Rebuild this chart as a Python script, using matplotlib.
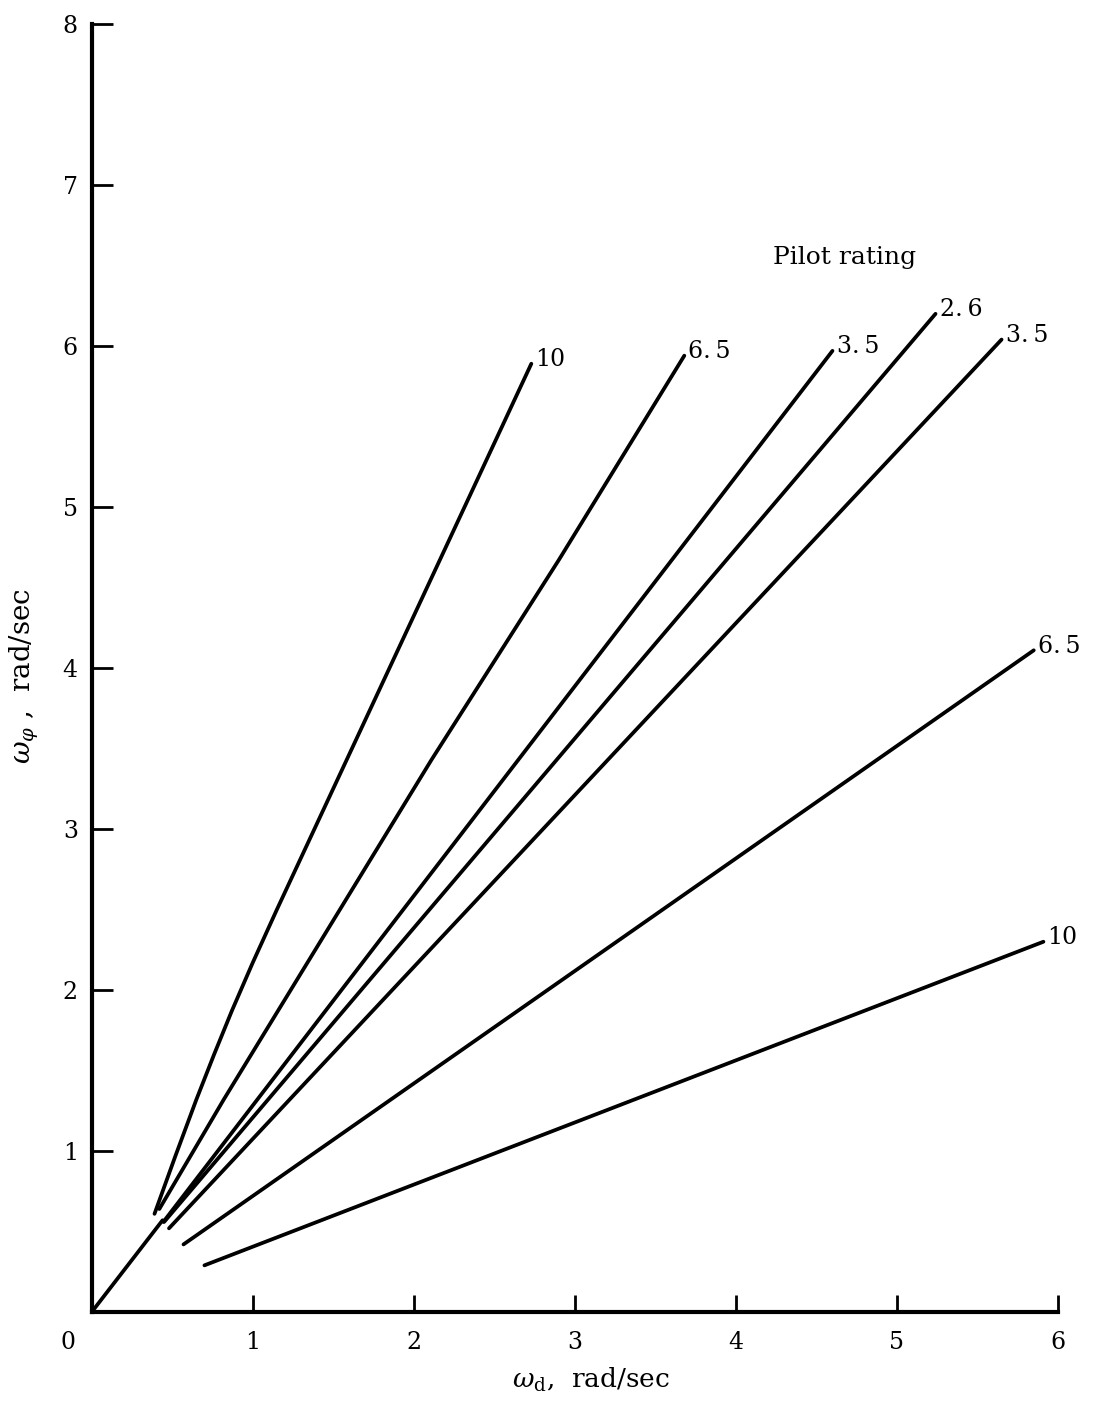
import matplotlib
matplotlib.use("Agg")
import matplotlib.pyplot as plt

plt.rcParams['font.family'] = ['DejaVu Serif']
plt.rcParams['mathtext.fontset'] = 'dejavuserif'

# common leg from the origin
diag_x = [0.0, 0.44]
diag_y = [0.0, 0.57]

# pilot rating lines
r10a_x = [0.39, 0.52, 0.65, 0.76, 0.87, 1.00, 1.15, 2.73]
r10a_y = [0.61, 0.97, 1.32, 1.60, 1.87, 2.17, 2.50, 5.89]
r65a_x = [0.42, 0.82, 2.11, 2.90, 3.68]
r65a_y = [0.64, 1.32, 3.43, 4.67, 5.94]
r35a_x = [0.445, 4.60]
r35a_y = [0.56, 5.97]
r26_x = [0.45, 5.24]
r26_y = [0.56, 6.20]
r35b_x = [0.48, 5.65]
r35b_y = [0.52, 6.04]
r65b_x = [0.57, 5.85]
r65b_y = [0.42, 4.11]
r10b_x = [0.70, 5.91]
r10b_y = [0.29, 2.30]

lines = [
    (r10a_x, r10a_y, '10'),
    (r65a_x, r65a_y, '6.\u20095'),
    (r35a_x, r35a_y, '3.\u20095'),
    (r26_x, r26_y, '2.\u20096'),
    (r35b_x, r35b_y, '3.\u20095'),
    (r65b_x, r65b_y, '6.\u20095'),
    (r10b_x, r10b_y, '10'),
]

fig = plt.figure(figsize=(10.93, 14.04), dpi=100)
ax = fig.add_axes([0.0839, 0.0655, 0.884, 0.9174])

ax.plot(diag_x, diag_y, color='black', lw=2.7, solid_capstyle='round')
for xs, ys, lab in lines:
    ax.plot(xs, ys, color='black', lw=2.7, solid_capstyle='round', solid_joinstyle='round')
    ax.annotate(lab, xy=(xs[-1], ys[-1]), xytext=(3, 3), textcoords='offset points',
                ha='left', va='center', fontsize=17)

ax.text(4.23, 6.55, 'Pilot rating', ha='left', va='center', fontsize=18)

ax.set_xlim(0, 6)
ax.set_ylim(0, 8)
ax.spines['top'].set_visible(False)
ax.spines['right'].set_visible(False)
for s in ['left', 'bottom']:
    ax.spines[s].set_linewidth(3)
ax.set_xticks([1, 2, 3, 4, 5, 6])
ax.set_yticks([1, 2, 3, 4, 5, 6, 7, 8])
ax.tick_params(axis='x', direction='in', length=12, width=2, pad=14, labelsize=17)
ax.tick_params(axis='y', direction='in', length=15, width=2, pad=10, labelsize=17)
ax.text(-0.15, -0.19, '0', ha='center', va='center', fontsize=17)

fig.text(591 / 1093, 1 - 1380 / 1404, r'$\omega_{\rm d}$,  rad/sec', ha='center', va='center', fontsize=19)
fig.text(24 / 1093, 1 - 676 / 1404, r'$\omega_\varphi$ ,  rad/sec', ha='center', va='center',
         rotation=90, fontsize=20)

fig.savefig('out.png', dpi=100)
